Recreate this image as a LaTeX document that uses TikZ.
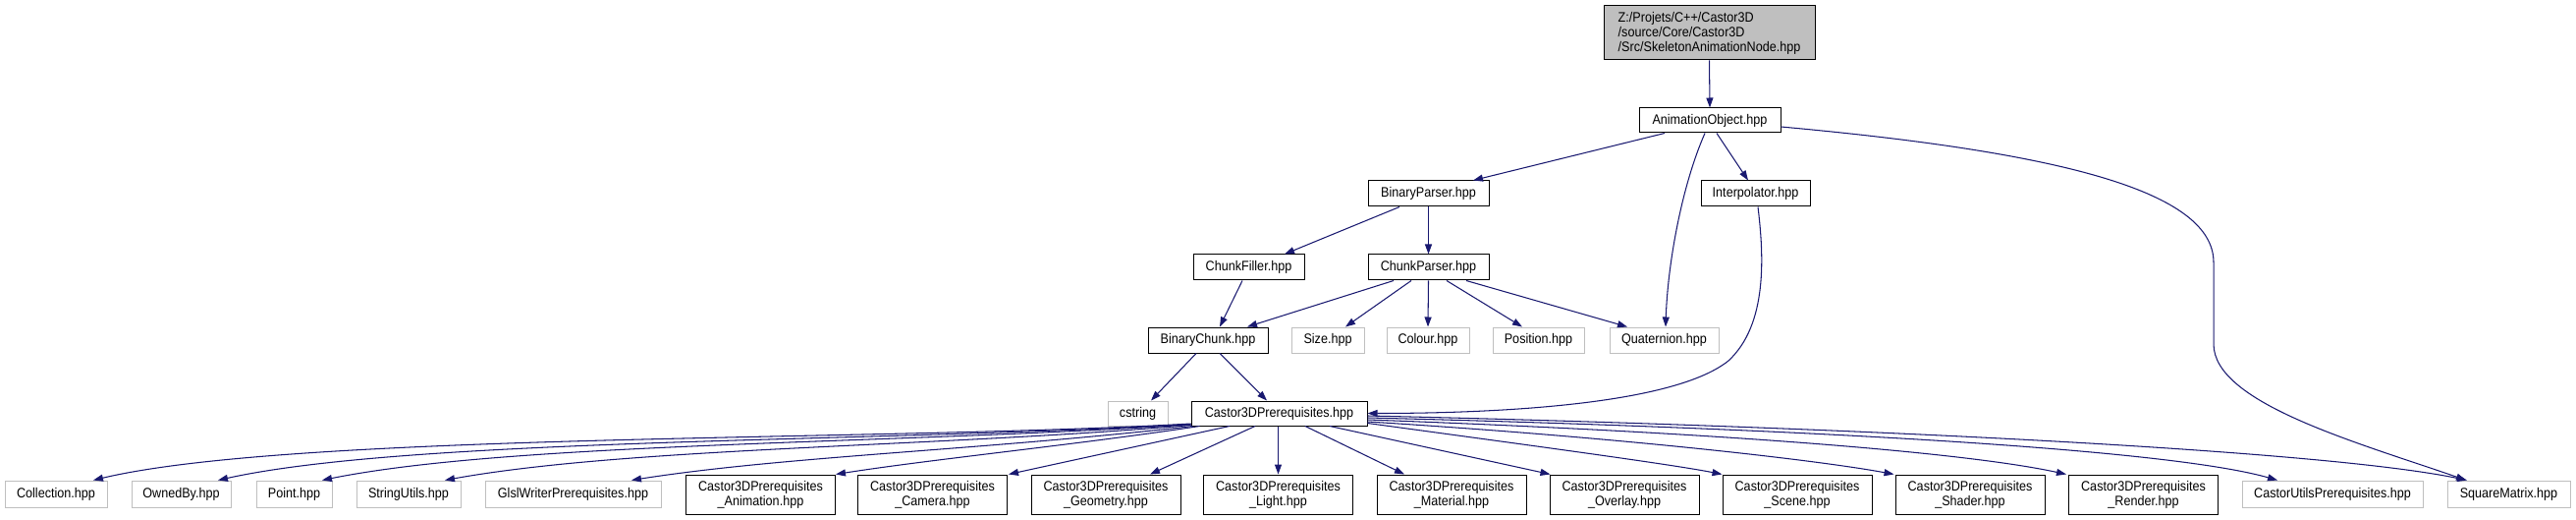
\documentclass[tikz,border=0pt]{standalone}
\usepackage{fontspec}
\setmainfont{Liberation Sans}[FakeStretch=0.9]
\usetikzlibrary{arrows.meta,calc}
\definecolor{edgec}{HTML}{191970}
\definecolor{grayb}{HTML}{BFBFBF}
\begin{document}
\begin{tikzpicture}[x=1pt,y=-1pt,
  every node/.style={font=\fontsize{14}{15}\selectfont, inner sep=0pt, rectangle},
  doc/.style={draw=black, line width=1pt, fill=white},
  undoc/.style={draw=grayb, line width=1pt, fill=white},
  twoline/.style={doc, align=center, minimum width=152pt, minimum height=40pt},
  single/.style={undoc, minimum height=27pt},
  edge/.style={draw=edgec, line width=1.05pt, -{Triangle[length=10pt,width=7pt]}},
]
\fill[white] (0,0) rectangle (2623,529);
\useasboundingbox (0,0) rectangle (2623,529);

% upper part
\node[doc, fill=grayb, minimum width=215pt, minimum height=55pt, align=left] (top) at (1740.5,33.5)
  {Z:/Projets/C++/Castor3D\\/source/Core/Castor3D\\/Src/SkeletonAnimationNode.hpp};
\node[doc, minimum width=144pt, minimum height=25pt] (anim) at (1741,122.5) {AnimationObject.hpp};
\node[doc, minimum width=123pt, minimum height=26pt] (bparser) at (1454.5,197) {BinaryParser.hpp};
\node[doc, minimum width=111pt, minimum height=26pt] (interp) at (1787.5,197) {Interpolator.hpp};
\node[doc, minimum width=113pt, minimum height=26pt] (cfiller) at (1271.5,272) {ChunkFiller.hpp};
\node[doc, minimum width=123pt, minimum height=26pt] (cparser) at (1454.5,272) {ChunkParser.hpp};
\node[doc, minimum width=122pt, minimum height=26pt] (bchunk) at (1230,346) {BinaryChunk.hpp};
\node[undoc, minimum width=74pt, minimum height=26pt] (size) at (1352,346) {Size.hpp};
\node[undoc, minimum width=84pt, minimum height=26pt] (colour) at (1454,346) {Colour.hpp};
\node[undoc, minimum width=93pt, minimum height=26pt] (position) at (1566.5,346) {Position.hpp};
\node[undoc, minimum width=111pt, minimum height=26pt] (quat) at (1694.5,346) {Quaternion.hpp};
\node[undoc, minimum width=61pt, minimum height=25pt] (cstring) at (1158.5,420.5) {cstring};
\node[doc, minimum width=179pt, minimum height=25pt] (castor) at (1302.5,420.5) {Castor3DPrerequisites.hpp};

% bottom row
\node[single, minimum width=104pt] (collection) at (57,502.5) {Collection.hpp};
\node[single, minimum width=101pt] (ownedby) at (184.5,502.5) {OwnedBy.hpp};
\node[single, minimum width=77pt] (point) at (299.5,502.5) {Point.hpp};
\node[single, minimum width=106pt] (stringutils) at (416,502.5) {StringUtils.hpp};
\node[single, minimum width=179pt] (glsl) at (583.5,502.5) {GlslWriterPrerequisites.hpp};
\node[twoline] (animp) at (774.5,503) {Castor3DPrerequisites\\\_Animation.hpp};
\node[twoline] (camera) at (949.5,503) {Castor3DPrerequisites\\\_Camera.hpp};
\node[twoline] (geom) at (1126,503) {Castor3DPrerequisites\\\_Geometry.hpp};
\node[twoline] (light) at (1301.5,503) {Castor3DPrerequisites\\\_Light.hpp};
\node[twoline] (material) at (1478,503) {Castor3DPrerequisites\\\_Material.hpp};
\node[twoline] (overlay) at (1654,503) {Castor3DPrerequisites\\\_Overlay.hpp};
\node[twoline] (scene) at (1830,503) {Castor3DPrerequisites\\\_Scene.hpp};
\node[twoline] (shader) at (2006,503) {Castor3DPrerequisites\\\_Shader.hpp};
\node[twoline] (render) at (2182.5,503) {Castor3DPrerequisites\\\_Render.hpp};
\node[single, minimum width=184pt] (castorutils) at (2375,502.5) {CastorUtilsPrerequisites.hpp};
\node[single, minimum width=125pt] (sqm) at (2554.5,502.5) {SquareMatrix.hpp};

% edges, upper part
\draw[edge] (top.south) -- (anim.north);
\draw[edge] ($(anim.south)+(-46,0)$) -- ($(bparser.north)+(45.5,0)$);
\draw[edge] ($(anim.south)+(7,0)$) -- ($(interp.north)+(-7.5,0)$);
\draw[edge] ($(anim.south)+(-5,0)$) .. controls (1712,190) and (1698,270) .. ($(quat.north)+(1.5,0)$);
\draw[edge] ($(anim.east)+(0,6.5)$) .. controls (2100,155) and (2254,195) .. (2254,267) -- (2254,350)
  .. controls (2254,410) and (2400,450) .. ($(sqm.north)+(-43.5,0)$);
\draw[edge] ($(bparser.south)+(-29.5,0)$) -- ($(cfiller.north)+(36.5,0)$);
\draw[edge] (bparser.south) -- (cparser.north);
\draw[edge] ($(cfiller.south)+(-6.5,0)$) -- ($(bchunk.north)+(12,0)$);
\draw[edge] ($(cparser.south)+(-35.5,0)$) -- ($(bchunk.north)+(40,0)$);
\draw[edge] ($(cparser.south)+(-17.5,0)$) -- ($(size.north)+(18,0)$);
\draw[edge] (cparser.south) -- (colour.north);
\draw[edge] ($(cparser.south)+(18.5,0)$) -- ($(position.north)+(-16.5,0)$);
\draw[edge] ($(cparser.south)+(38.5,0)$) -- ($(quat.north)+(-37.5,0)$);
\draw[edge] ($(interp.south)+(2.5,0)$) .. controls (1796,260) and (1800,330) .. (1760,367)
  .. controls (1700,415) and (1500,420.5) .. (castor.east);
\draw[edge] ($(bchunk.south)+(-12,0)$) -- ($(cstring.north)+(13.5,0)$);
\draw[edge] ($(bchunk.south)+(12,0)$) -- ($(castor.north)+(-12.5,0)$);

% edges from Castor3DPrerequisites, below
\draw[edge] ($(castor.south)+(-50.5,0)$) -- ($(camera.north east)+(1,0)$);
\draw[edge] ($(castor.south)+(-24.5,0)$) -- ($(geom.north)+(45,0)$);
\draw[edge] ($(castor.south)+(-1,0)$) -- (light.north);
\draw[edge] ($(castor.south)+(26.5,0)$) -- ($(material.north)+(-48,0)$);
\draw[edge] ($(castor.south)+(51.5,0)$) -- ($(overlay.north west)+(1,0)$);

% right
\draw[edge] ($(castor.east)+(0,10)$) .. controls (1550,452) and (1700,472) .. (scene.north west);
\draw[edge] ($(castor.east)+(0,8.5)$) .. controls (1650,445) and (1850,468) .. ($(shader.north west)+(-1,0)$);
\draw[edge] ($(castor.east)+(0,6.5)$) .. controls (1750,440) and (2000,460) .. ($(render.north west)+(-2,0)$);
\draw[edge] ($(castor.east)+(0,4.5)$) .. controls (1800,435) and (2200,455) .. ($(castorutils.north)+(-56,0)$);
\draw[edge] ($(castor.east)+(0,2.5)$) .. controls (1800,432) and (2350,455) .. ($(sqm.north)+(-42.5,0)$);

% left
\draw[edge] ($(castor.south west)+(9,0)$) .. controls (1100,452) and (950,467) .. (animp.north east);
\draw[edge] ($(castor.south west)+(2,0)$) .. controls (1000,458) and (800,464) .. ($(glsl.north)+(59.5,0)$);
\draw[edge] ($(castor.west)+(0,12)$) .. controls (950,455) and (640,455) .. ($(stringutils.north)+(37,0)$);
\draw[edge] ($(castor.west)+(0,11.5)$) .. controls (900,452) and (520,450) .. ($(point.north)+(28.5,0)$);
\draw[edge] ($(castor.west)+(0,11)$) .. controls (900,450) and (420,445) .. ($(ownedby.north)+(37.5,0)$);
\draw[edge] ($(castor.west)+(0,10.5)$) .. controls (900,449) and (300,440) .. ($(collection.north)+(38,0)$);
\end{tikzpicture}
\end{document}
